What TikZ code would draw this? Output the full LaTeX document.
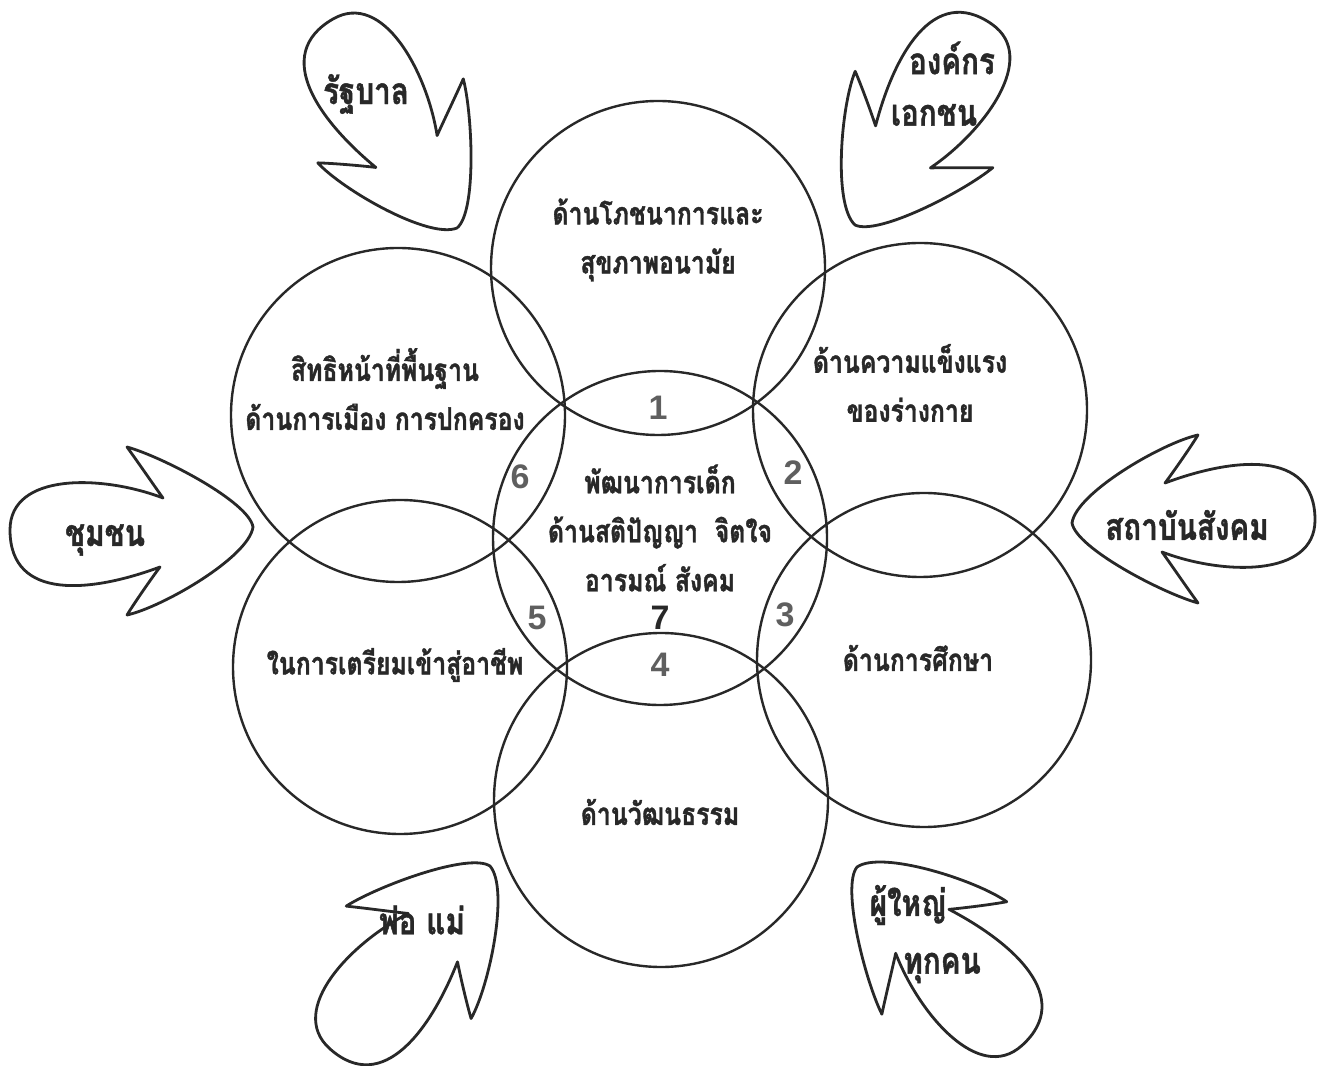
\documentclass[tikz,border=0pt]{standalone}
\usepackage{fontspec}
\usepackage{tikz}
\usetikzlibrary{positioning}
\usepackage{xcolor}
\newfontfamily\thaifont[Script=Thai, FakeStretch=0.8, FakeBold=1.2]{Loma}
\newfontfamily\numfont{Liberation Sans}
\definecolor{InkGray}{RGB}{40,40,40}
\definecolor{NumGray}{RGB}{95,95,95}

\tikzset{
  pics/handarrow/.style={code={
    \draw[arrowline] (0,0) .. controls (-4,25) and (-90,70) .. (-126,80)
      .. controls (-113,62) and (-98,40) .. (-90,29)
      .. controls (-150,52) and (-243,55) .. (-243,-3)
      .. controls (-243,-75) and (-160,-65) .. (-93,-40)
      .. controls (-102,-52) and (-118,-75) .. (-126,-88)
      .. controls (-90,-80) and (-4,-30) .. (0,0) -- cycle;
  }}
}

\begin{document}
\begin{tikzpicture}[
    x=0.5pt, y=0.5pt,
    ring/.style={circle, draw=InkGray, line width=1.2pt, minimum size=167pt, inner sep=0pt},
    arrowline/.style={draw=InkGray, line width=1.4pt, line join=round},
    ringtext/.style={font=\thaifont\bfseries\fontsize{15.5}{24.5}\selectfont, text=InkGray, align=center},
    arrowtext/.style={font=\thaifont\bfseries\fontsize{18.5}{28}\selectfont, text=InkGray, align=center},
    zone/.style={font=\numfont\bfseries\fontsize{17}{18}\selectfont, text=NumGray, inner sep=1pt}
]
\useasboundingbox (0,0) rectangle (1320,1065);

% seven circles
\node[ring] (ctr) at (660,527) {};
\node[ring] (top) at (658,797) {};
\node[ring] (uright) at (920,655) {};
\node[ring] (lright) at (924,405) {};
\node[ring] (bot) at (661,265) {};
\node[ring] (lleft) at (400,398) {};
\node[ring] (uleft) at (398,650) {};

% circle texts
\node[ringtext] (toptext) at (658,825) {ด้านโภชนาการและ\\สุขภาพอนามัย};
\node[ringtext] (ulefttext) at (385,676) {สิทธิหน้าที่พื้นฐาน\\ด้านการเมือง การปกครอง};
\node[ringtext] (urighttext) at (910,682) {ด้านความแข็งแรง\\ของร่างกาย};
\node[ringtext] (ctrtext) at (660,537) {พัฒนาการเด็ก\\ด้านสติปัญญา\ \ จิตใจ\\อารมณ์ สังคม};
\node[ringtext] (llefttext) at (395,400) {ในการเตรียมเข้าสู่อาชีพ};
\node[ringtext] (lrighttext) at (918,407) {ด้านการศึกษา};
\node[ringtext] (bottext) at (660,253) {ด้านวัฒนธรรม};

% overlap numbers
\node[zone] (z1) at (658,657) {1};
\node[zone] (z2) at (793,592) {2};
\node[zone] (z3) at (785,450) {3};
\node[zone] (z4) at (660,400) {4};
\node[zone] (z5) at (537,447) {5};
\node[zone] (z6) at (520,588) {6};
\node[zone, text=InkGray] (z7) at (660,447) {7};

% arrows pointing in
\pic (govt) [rotate=-60] at (457,837) {handarrow};
\pic (ngo) [rotate=-125] at (855,840) {handarrow};
\pic (comm) at (253,538) {handarrow};
\pic (inst) [rotate=180] at (1072,542) {handarrow};
\pic (parent) [rotate=48] at (490,199) {handarrow};
\pic (adult) [rotate=132] at (857,198) {handarrow};

\node[arrowtext] (govttext) at (366,971) {รัฐบาล};
\node[arrowtext] (ngotext1) at (952,1007) {องค์กร};
\node[arrowtext] (ngotext2) at (934,950) {เอกชน};
\node[arrowtext] (commtext) at (105,525) {ชุมชน};
\node[arrowtext] (insttext) at (1187,540) {สถาบันสังคม};
\node[arrowtext] (parenttext) at (422,145) {พ่อ แม่};
\node[arrowtext] (adulttext1) at (908,160) {ผู้ใหญ่};
\node[arrowtext] (adulttext2) at (942,97) {ทุกคน};
\end{tikzpicture}
\end{document}
